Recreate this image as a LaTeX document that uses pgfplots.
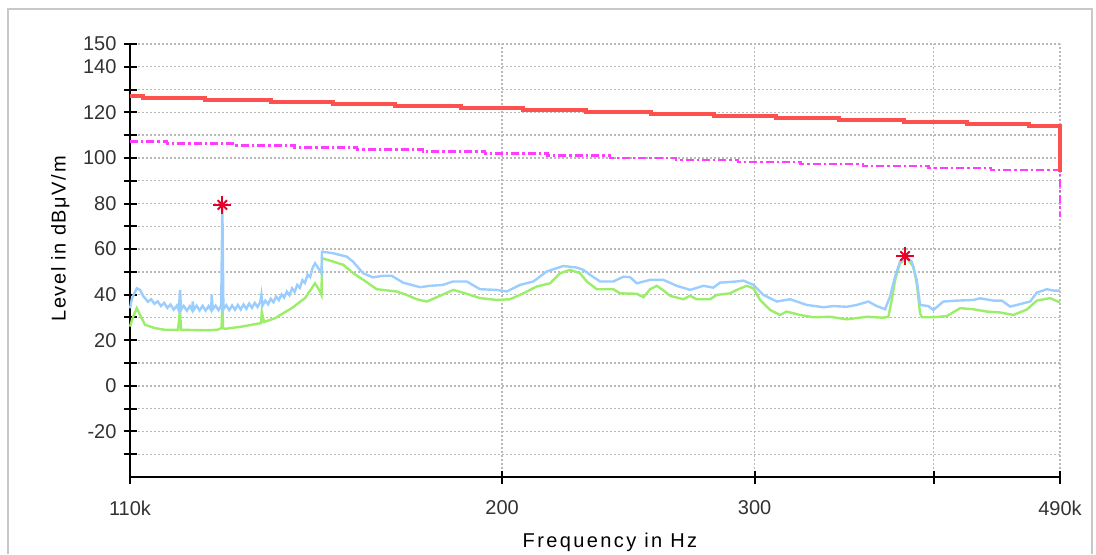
\documentclass[border=0pt]{standalone}
\usepackage{fontspec}
\setmainfont{Liberation Sans}
\usepackage{pgfplots}
\pgfplotsset{compat=1.18}

\definecolor{meas}{RGB}{155,205,255}
\definecolor{avgc}{RGB}{155,238,105}
\definecolor{limqp}{RGB}{255,80,80}
\definecolor{limav}{RGB}{255,60,255}
\definecolor{mk}{RGB}{230,0,40}
\definecolor{txt}{RGB}{50,50,50}
\definecolor{gridc}{RGB}{185,185,185}
\definecolor{framec}{RGB}{200,200,200}

\begin{document}
\begin{tikzpicture}
\useasboundingbox (0,0) rectangle (548pt,277pt);
\draw[framec, line width=0.8pt] (4pt,0) -- (4pt,272.5pt) -- (546pt,272.5pt) -- (546pt,0);
\begin{axis}[
    at={(65pt,38.5pt)}, anchor=south west,
    scale only axis,
    width=465pt, height=216.5pt,
    xmode=log,
    xmin=110, xmax=490,
    ymin=-40, ymax=150,
    axis lines*=left,
    axis line style={black, line width=1pt},
    clip=false,
    xtick={110,200,300,400,490},
    xticklabels={110k,200,300,,490k},
    ytick={-30,-20,...,150},
    yticklabels={,-20,,0,,20,,40,,60,,80,,100,,120,,140,150},
    tick align=center,
    major tick length=6.5pt,
    tick style={black, line width=1pt},
    ticklabel style={font=\fontsize{10}{12}\selectfont, text=txt},
    xticklabel style={yshift=-5pt},
    xmajorgrids, ymajorgrids,
    grid style={gridc, line width=0.7pt, dash pattern=on 1pt off 1pt},
    xlabel={{\addfontfeatures{LetterSpace=12}Frequency in Hz}},
    ylabel={{\addfontfeatures{LetterSpace=8}Level in dBμV/m}},
    label style={font=\fontsize{10}{12}\selectfont, text=black},
    xlabel style={at={(axis description cs:0.516,-0.152)}, anchor=center},
    ylabel style={at={(axis description cs:-0.075,0.55)}, anchor=center},
]

% average trace
\addplot[avgc, line width=1.2pt] table {
f       v
110.00  26.0
110.35  29.0
111.19  34.1
111.78  31.1
112.68  26.8
114.51  25.3
116.36  24.6
118.82  24.6
119.20  33.3
119.39  24.6
124.28  24.4
126.50  24.6
127.42  25.3
127.58  37.0
127.73  25.3
128.14  25.0
131.62  26.0
135.11  27.3
135.77  27.5
135.92  32.5
136.42  28.0
138.85  29.7
142.63  34.1
145.71  38.5
148.07  45.0
149.26  41.4
149.62  39.9
149.74  56.0
152.49  54.5
154.96  53.1
157.47  49.4
160.02  46.5
163.50  42.4
168.84  41.4
171.57  39.9
174.35  38.0
177.17  37.0
181.00  39.5
184.91  42.1
188.93  40.4
193.01  38.5
198.26  37.7
202.54  38.0
206.92  40.6
211.42  43.6
215.99  45.0
219.48  49.4
223.04  50.9
226.65  49.4
229.10  45.8
232.81  42.4
239.10  42.4
241.69  40.6
248.26  40.4
250.91  38.9
253.63  42.4
256.37  43.9
259.10  41.9
261.91  39.5
267.56  38.0
270.46  39.5
273.38  38.0
279.29  38.0
282.31  39.9
288.41  40.6
291.53  42.1
296.25  43.9
299.41  42.8
302.65  37.7
307.55  33.3
312.53  31.1
315.91  32.6
322.73  31.1
329.70  30.1
338.65  30.3
347.88  29.2
359.24  30.3
368.95  29.9
371.92  30.3
373.96  37.7
375.95  46.5
378.98  53.8
383.08  56.0
387.16  52.3
389.28  45.0
391.35  31.9
392.42  30.1
399.81  30.1
408.51  30.6
417.33  34.1
426.34  33.6
435.62  32.6
445.03  32.2
454.64  31.1
464.53  33.5
472.05  37.4
482.25  38.5
488.72  36.9
490.00  37.0
};

% peak trace
\addplot[meas, line width=1.2pt] table {
f       v
110.00  34.0
110.35  38.5
111.19  42.8
111.78  42.1
112.32  39.5
112.68  38.5
113.2   36.9
113.8   38.0
114.4   36.0
115.0   37.1
115.6   35.0
116.2   36.4
116.8   34.2
117.4   35.7
118.0   33.4
118.6   35.2
118.95  33.2
119.20  42.1
119.39  33.4
119.9   35.1
120.5   33.0
121.1   35.0
121.55  33.2
121.66  37.0
121.85  33.4
122.4   35.2
123.0   33.1
123.6   35.1
124.2   33.0
124.8   35.0
125.3   33.2
125.43  40.0
125.6   33.6
126.2   35.2
126.8   33.2
127.35  35.4
127.58  79.4
127.8   33.6
128.4   35.4
129.0   33.2
129.6   35.3
130.2   33.4
130.8   35.5
131.4   33.5
132.0   35.7
132.6   33.8
133.2   36.1
133.8   34.2
134.4   36.4
135.0   34.6
135.6   36.8
135.85  40.0
136.1   35.2
136.7   37.4
137.3   35.8
137.9   38.2
138.5   36.7
139.1   39.2
139.7   37.6
140.3   40.1
140.9   38.7
141.5   41.4
142.1   39.8
142.7   42.8
143.3   41.2
143.9   44.3
144.5   43.0
145.1   46.4
145.7   45.2
146.3   48.8
146.9   47.7
147.5   51.8
148.07  53.8
148.86  51.6
149.62  49.4
149.74  58.9
152.41  58.2
155.81  56.7
157.39  54.5
159.94  49.4
162.53  47.6
165.16  48.3
167.49  48.3
170.55  45.3
175.28  43.3
178.11  43.9
181.87  44.3
184.82  45.8
188.93  45.8
193.01  42.4
198.26  42.1
201.47  41.4
205.82  44.3
210.27  45.8
214.84  50.2
220.65  52.6
225.45  51.9
227.85  50.9
230.32  48.7
234.05  45.8
239.10  45.8
242.98  47.9
245.61  47.7
248.26  45.0
253.63  46.5
259.10  46.5
264.74  43.9
270.46  42.1
276.30  43.9
280.77  43.1
283.81  45.3
291.53  45.8
294.64  46.2
299.41  44.3
304.26  39.9
310.88  37.0
317.59  38.0
326.23  35.5
335.04  34.5
340.47  35.0
347.88  34.7
353.51  35.5
360.16  37.0
365.06  35.0
369.96  33.6
372.94  39.2
375.95  47.9
378.98  54.5
382.04  57.0
386.17  54.5
389.28  46.5
391.35  35.5
396.61  35.0
399.81  33.3
406.28  37.0
415.12  37.4
426.34  37.7
430.95  38.4
440.26  37.4
446.24  37.4
452.23  34.8
457.13  35.5
467.00  37.0
472.05  40.9
479.70  42.4
484.81  41.8
490.00  41.8
};

% average limit
\addplot[limav, line width=1.2pt, const plot, dash pattern=on 4pt off 1.5pt on 1.2pt off 1.5pt] table {
f       v
110.0   107.3
116.7   106.4
129.7   105.5
143.3   104.6
158.4   103.7
176.1   102.8
194.6   101.9
215.1   101.0
237.8   100.1
264.4   99.2
292.2   98.3
322.9   97.4
356.9   96.5
396.7   95.6
438.4   94.7
490.0   94.7
490.0   74.0
};

% quasi-peak limit
\addplot[limqp, line width=2pt, const plot] table {
f       v
110.0   127.3
112.3   126.4
124.0   125.5
137.9   124.7
152.4   123.8
168.4   122.9
187.2   122.0
206.9   121.1
228.7   120.3
254.2   119.4
281.0   118.5
310.6   117.6
343.3   116.7
381.6   115.9
421.8   115.0
466.1   114.1
490.0   114.1
490.0   94.0
};

% peak markers
\addplot[only marks, mk, mark=+, mark size=4.5pt, line width=1pt] coordinates {(127.58,79.4) (382.04,57.0)};
\addplot[only marks, mk, mark=x, mark size=3.3pt, line width=1pt] coordinates {(127.58,79.4) (382.04,57.0)};

\end{axis}
\end{tikzpicture}
\end{document}
